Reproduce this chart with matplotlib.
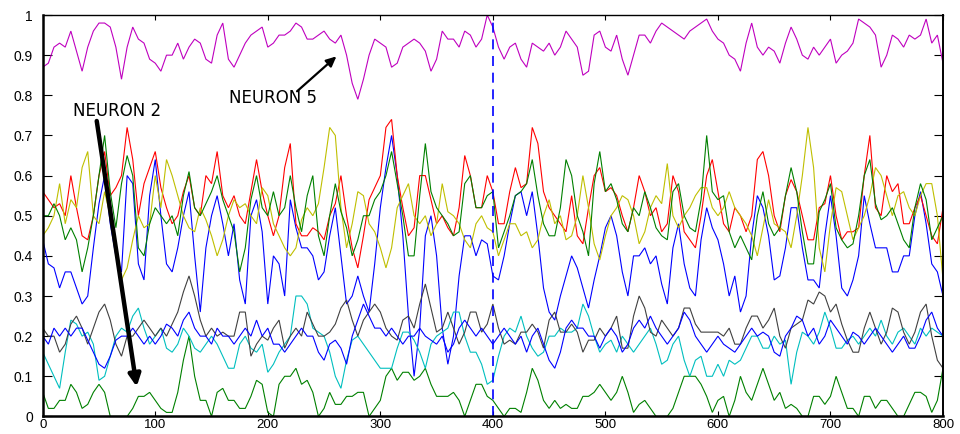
import numpy as np
import matplotlib
matplotlib.use('Agg')
import matplotlib.pyplot as plt
from matplotlib.patches import ArrowStyle

plt.rcParams['font.family'] = ['Liberation Sans', 'DejaVu Sans']

# sample times (every 5 steps)
time = np.arange(0, 801, 5)

# neuron 1 (blue, upper band)
neuron1 = [0.44, 0.38, 0.37, 0.32, 0.36, 0.36, 0.32, 0.28, 0.30, 0.42,
           0.53, 0.60, 0.48, 0.40, 0.36, 0.60, 0.58, 0.38, 0.34, 0.55,
           0.64, 0.50, 0.38, 0.36, 0.42, 0.50, 0.56, 0.40, 0.26, 0.42,
           0.50, 0.55, 0.48, 0.40, 0.48, 0.34, 0.28, 0.50, 0.54, 0.46,
           0.28, 0.40, 0.38, 0.30, 0.54, 0.47, 0.42, 0.42, 0.40, 0.34,
           0.36, 0.45, 0.52, 0.40, 0.28, 0.30, 0.35, 0.30, 0.26, 0.38,
           0.52, 0.62, 0.70, 0.60, 0.45, 0.25, 0.10, 0.22, 0.45, 0.50,
           0.40, 0.22, 0.13, 0.20, 0.35, 0.45, 0.45, 0.40, 0.44, 0.43,
           0.35, 0.34, 0.40, 0.48, 0.55, 0.56, 0.50, 0.56, 0.45, 0.32,
           0.26, 0.24, 0.30, 0.35, 0.40, 0.37, 0.32, 0.27, 0.34, 0.40,
           0.47, 0.50, 0.45, 0.36, 0.30, 0.40, 0.40, 0.42, 0.38, 0.40,
           0.33, 0.28, 0.42, 0.48, 0.38, 0.32, 0.30, 0.44, 0.52, 0.47,
           0.44, 0.38, 0.30, 0.35, 0.26, 0.30, 0.45, 0.55, 0.52, 0.45,
           0.34, 0.35, 0.42, 0.52, 0.52, 0.42, 0.34, 0.34, 0.32, 0.45,
           0.55, 0.45, 0.32, 0.30, 0.34, 0.40, 0.55, 0.48, 0.42, 0.42,
           0.42, 0.36, 0.36, 0.40, 0.40, 0.50, 0.56, 0.48, 0.38, 0.36,
           0.30]

# neuron 2 (dark green, bottom band)
neuron2 = [0.06, 0.02, 0.02, 0.04, 0.04, 0.08, 0.06, 0.02, 0.03, 0.06,
           0.08, 0.06, 0.00, 0.00, 0.00, 0.00, 0.02, 0.05, 0.05, 0.06,
           0.04, 0.02, 0.01, 0.01, 0.06, 0.14, 0.20, 0.10, 0.04, 0.04,
           0.00, 0.06, 0.07, 0.04, 0.04, 0.02, 0.02, 0.05, 0.09, 0.08,
           0.01, 0.00, 0.08, 0.10, 0.10, 0.12, 0.08, 0.09, 0.06, 0.00,
           0.02, 0.06, 0.03, 0.03, 0.05, 0.05, 0.06, 0.06, 0.00, 0.02,
           0.04, 0.10, 0.12, 0.09, 0.11, 0.11, 0.09, 0.10, 0.12, 0.08,
           0.05, 0.05, 0.05, 0.06, 0.04, 0.00, 0.04, 0.08, 0.08, 0.05,
           0.04, 0.02, 0.00, 0.02, 0.02, 0.01, 0.06, 0.12, 0.09, 0.04,
           0.02, 0.04, 0.02, 0.03, 0.02, 0.02, 0.05, 0.05, 0.06, 0.08,
           0.06, 0.04, 0.06, 0.10, 0.06, 0.01, 0.03, 0.04, 0.02, 0.00,
           0.00, 0.00, 0.02, 0.06, 0.10, 0.10, 0.10, 0.08, 0.05, 0.01,
           0.04, 0.05, 0.00, 0.04, 0.10, 0.06, 0.04, 0.08, 0.12, 0.08,
           0.04, 0.06, 0.02, 0.03, 0.02, 0.00, 0.00, 0.05, 0.05, 0.03,
           0.05, 0.10, 0.06, 0.02, 0.02, 0.00, 0.05, 0.05, 0.02, 0.04,
           0.04, 0.02, 0.00, 0.00, 0.03, 0.06, 0.06, 0.05, 0.01, 0.04,
           0.12]

# neuron 3 (red)
neuron3 = [0.56, 0.54, 0.52, 0.53, 0.50, 0.60, 0.52, 0.45, 0.44, 0.50,
           0.60, 0.66, 0.55, 0.57, 0.60, 0.72, 0.64, 0.50, 0.58, 0.62,
           0.66, 0.57, 0.52, 0.48, 0.50, 0.56, 0.60, 0.52, 0.50, 0.60,
           0.58, 0.66, 0.55, 0.52, 0.55, 0.50, 0.48, 0.56, 0.64, 0.56,
           0.50, 0.45, 0.50, 0.62, 0.68, 0.48, 0.45, 0.45, 0.47, 0.46,
           0.44, 0.50, 0.53, 0.60, 0.50, 0.42, 0.37, 0.45, 0.54, 0.57,
           0.60, 0.72, 0.74, 0.60, 0.52, 0.45, 0.47, 0.60, 0.60, 0.54,
           0.48, 0.50, 0.47, 0.45, 0.52, 0.65, 0.60, 0.52, 0.52, 0.60,
           0.56, 0.48, 0.48, 0.56, 0.62, 0.57, 0.58, 0.72, 0.68, 0.56,
           0.52, 0.50, 0.48, 0.46, 0.55, 0.45, 0.43, 0.52, 0.60, 0.62,
           0.56, 0.57, 0.55, 0.50, 0.46, 0.52, 0.60, 0.56, 0.50, 0.52,
           0.46, 0.48, 0.60, 0.56, 0.46, 0.44, 0.42, 0.50, 0.60, 0.64,
           0.56, 0.48, 0.46, 0.52, 0.50, 0.46, 0.50, 0.64, 0.66, 0.60,
           0.50, 0.46, 0.55, 0.59, 0.56, 0.50, 0.44, 0.44, 0.52, 0.53,
           0.60, 0.50, 0.44, 0.46, 0.46, 0.47, 0.60, 0.70, 0.52, 0.50,
           0.60, 0.56, 0.58, 0.48, 0.48, 0.52, 0.55, 0.50, 0.45, 0.43,
           0.52]

# neuron 4 (cyan)
neuron4 = [0.16, 0.13, 0.10, 0.07, 0.16, 0.24, 0.23, 0.20, 0.21, 0.18,
           0.09, 0.10, 0.15, 0.20, 0.22, 0.21, 0.25, 0.27, 0.22, 0.18,
           0.20, 0.22, 0.17, 0.16, 0.18, 0.22, 0.20, 0.17, 0.16, 0.18,
           0.20, 0.18, 0.15, 0.12, 0.12, 0.18, 0.20, 0.17, 0.16, 0.18,
           0.11, 0.13, 0.16, 0.18, 0.20, 0.30, 0.30, 0.28, 0.22, 0.21,
           0.20, 0.16, 0.10, 0.07, 0.14, 0.19, 0.20, 0.18, 0.16, 0.14,
           0.12, 0.12, 0.12, 0.17, 0.21, 0.21, 0.19, 0.16, 0.12, 0.18,
           0.20, 0.21, 0.22, 0.26, 0.26, 0.20, 0.16, 0.16, 0.13, 0.08,
           0.09, 0.15, 0.20, 0.22, 0.21, 0.25, 0.20, 0.17, 0.15, 0.16,
           0.20, 0.20, 0.22, 0.21, 0.21, 0.22, 0.28, 0.25, 0.20, 0.16,
           0.18, 0.19, 0.16, 0.20, 0.18, 0.16, 0.18, 0.20, 0.22, 0.18,
           0.13, 0.14, 0.18, 0.20, 0.14, 0.10, 0.14, 0.15, 0.10, 0.10,
           0.13, 0.10, 0.14, 0.13, 0.14, 0.17, 0.20, 0.20, 0.17, 0.17,
           0.20, 0.18, 0.19, 0.08, 0.16, 0.21, 0.20, 0.18, 0.21, 0.26,
           0.22, 0.17, 0.17, 0.19, 0.20, 0.18, 0.20, 0.22, 0.20, 0.24,
           0.20, 0.18, 0.21, 0.22, 0.20, 0.18, 0.22, 0.20, 0.22, 0.21,
           0.20]

# neuron 5 (magenta, top band)
neuron5 = [0.87, 0.88, 0.92, 0.93, 0.92, 0.96, 0.91, 0.86, 0.92, 0.96,
           0.98, 0.98, 0.97, 0.92, 0.84, 0.92, 0.97, 0.94, 0.93, 0.89,
           0.88, 0.86, 0.90, 0.90, 0.93, 0.89, 0.92, 0.94, 0.93, 0.89,
           0.88, 0.95, 0.98, 0.89, 0.87, 0.90, 0.93, 0.95, 0.96, 0.97,
           0.92, 0.93, 0.95, 0.95, 0.96, 0.98, 0.97, 0.94, 0.94, 0.95,
           0.96, 0.94, 0.93, 0.95, 0.90, 0.83, 0.79, 0.84, 0.90, 0.94,
           0.93, 0.92, 0.87, 0.88, 0.92, 0.93, 0.94, 0.93, 0.91, 0.86,
           0.89, 0.96, 0.94, 0.94, 0.92, 0.96, 0.95, 0.92, 0.94, 1.00,
           0.97, 0.92, 0.89, 0.92, 0.93, 0.89, 0.87, 0.93, 0.92, 0.91,
           0.93, 0.90, 0.92, 0.96, 0.94, 0.92, 0.85, 0.86, 0.95, 0.96,
           0.92, 0.91, 0.95, 0.89, 0.85, 0.90, 0.95, 0.95, 0.93, 0.96,
           0.98, 0.97, 0.96, 0.95, 0.94, 0.96, 0.97, 0.98, 0.99, 0.96,
           0.94, 0.93, 0.90, 0.89, 0.86, 0.93, 0.98, 0.92, 0.90, 0.92,
           0.91, 0.88, 0.93, 0.97, 0.94, 0.90, 0.89, 0.92, 0.90, 0.92,
           0.94, 0.88, 0.90, 0.91, 0.93, 0.99, 0.98, 0.97, 0.95, 0.87,
           0.90, 0.95, 0.94, 0.92, 0.95, 0.94, 0.95, 0.99, 0.93, 0.95,
           0.88]

# neuron 6 (yellow)
neuron6 = [0.45, 0.47, 0.50, 0.58, 0.48, 0.54, 0.52, 0.62, 0.66, 0.50,
           0.48, 0.56, 0.50, 0.42, 0.34, 0.37, 0.44, 0.50, 0.47, 0.48,
           0.60, 0.52, 0.64, 0.60, 0.55, 0.50, 0.47, 0.46, 0.52, 0.49,
           0.45, 0.40, 0.44, 0.50, 0.54, 0.52, 0.53, 0.50, 0.48, 0.57,
           0.55, 0.48, 0.45, 0.42, 0.40, 0.42, 0.49, 0.52, 0.50, 0.53,
           0.62, 0.72, 0.70, 0.52, 0.42, 0.48, 0.56, 0.55, 0.48, 0.46,
           0.42, 0.37, 0.42, 0.52, 0.55, 0.58, 0.50, 0.48, 0.50, 0.45,
           0.48, 0.58, 0.51, 0.50, 0.48, 0.44, 0.42, 0.48, 0.50, 0.47,
           0.46, 0.40, 0.44, 0.48, 0.48, 0.45, 0.46, 0.42, 0.44, 0.50,
           0.54, 0.48, 0.50, 0.44, 0.45, 0.50, 0.60, 0.52, 0.43, 0.39,
           0.45, 0.50, 0.52, 0.55, 0.54, 0.50, 0.43, 0.46, 0.52, 0.55,
           0.53, 0.63, 0.50, 0.47, 0.50, 0.52, 0.55, 0.57, 0.57, 0.52,
           0.50, 0.52, 0.56, 0.52, 0.50, 0.48, 0.45, 0.40, 0.47, 0.54,
           0.48, 0.47, 0.46, 0.42, 0.50, 0.60, 0.72, 0.62, 0.42, 0.36,
           0.48, 0.57, 0.56, 0.50, 0.44, 0.47, 0.50, 0.55, 0.62, 0.60,
           0.55, 0.50, 0.55, 0.56, 0.52, 0.50, 0.55, 0.58, 0.58, 0.50,
           0.34]

# neuron 7 (dark grey)
neuron7 = [0.22, 0.20, 0.20, 0.16, 0.18, 0.23, 0.25, 0.22, 0.18, 0.22,
           0.26, 0.28, 0.24, 0.18, 0.15, 0.20, 0.20, 0.22, 0.24, 0.22,
           0.20, 0.22, 0.20, 0.23, 0.26, 0.31, 0.35, 0.30, 0.24, 0.20,
           0.22, 0.20, 0.21, 0.20, 0.20, 0.26, 0.26, 0.15, 0.18, 0.20,
           0.19, 0.22, 0.24, 0.17, 0.20, 0.22, 0.20, 0.26, 0.23, 0.20,
           0.20, 0.21, 0.23, 0.27, 0.29, 0.24, 0.20, 0.24, 0.26, 0.28,
           0.26, 0.22, 0.20, 0.19, 0.24, 0.25, 0.22, 0.28, 0.33, 0.27,
           0.21, 0.22, 0.26, 0.22, 0.18, 0.21, 0.26, 0.26, 0.21, 0.23,
           0.28, 0.22, 0.18, 0.19, 0.18, 0.21, 0.21, 0.23, 0.21, 0.17,
           0.24, 0.26, 0.21, 0.21, 0.23, 0.21, 0.16, 0.19, 0.19, 0.22,
           0.20, 0.22, 0.25, 0.17, 0.17, 0.25, 0.30, 0.27, 0.21, 0.20,
           0.24, 0.22, 0.20, 0.22, 0.27, 0.27, 0.23, 0.21, 0.21, 0.21,
           0.21, 0.20, 0.22, 0.18, 0.18, 0.22, 0.25, 0.25, 0.22, 0.24,
           0.27, 0.20, 0.17, 0.22, 0.23, 0.24, 0.29, 0.28, 0.31, 0.30,
           0.26, 0.28, 0.23, 0.19, 0.16, 0.16, 0.22, 0.26, 0.22, 0.18,
           0.21, 0.27, 0.26, 0.21, 0.18, 0.21, 0.26, 0.28, 0.20, 0.14,
           0.12]

# neuron 8 (blue, lower band)
neuron8 = [0.20, 0.18, 0.22, 0.20, 0.22, 0.20, 0.22, 0.22, 0.19, 0.16,
           0.13, 0.12, 0.15, 0.19, 0.20, 0.20, 0.22, 0.20, 0.18, 0.20,
           0.18, 0.20, 0.23, 0.22, 0.20, 0.24, 0.26, 0.22, 0.20, 0.20,
           0.18, 0.22, 0.20, 0.20, 0.18, 0.20, 0.22, 0.20, 0.24, 0.20,
           0.22, 0.18, 0.18, 0.16, 0.18, 0.20, 0.22, 0.20, 0.20, 0.16,
           0.14, 0.18, 0.19, 0.17, 0.13, 0.20, 0.24, 0.28, 0.25, 0.22,
           0.22, 0.20, 0.22, 0.20, 0.18, 0.20, 0.20, 0.22, 0.20, 0.19,
           0.18, 0.20, 0.16, 0.18, 0.22, 0.24, 0.22, 0.20, 0.22, 0.20,
           0.18, 0.20, 0.22, 0.20, 0.18, 0.20, 0.16, 0.20, 0.22, 0.18,
           0.14, 0.12, 0.16, 0.22, 0.24, 0.22, 0.22, 0.20, 0.20, 0.17,
           0.20, 0.22, 0.20, 0.16, 0.18, 0.22, 0.24, 0.22, 0.25, 0.22,
           0.20, 0.18, 0.20, 0.22, 0.26, 0.24, 0.20, 0.18, 0.16, 0.18,
           0.20, 0.18, 0.17, 0.16, 0.18, 0.20, 0.22, 0.20, 0.21, 0.20,
           0.16, 0.15, 0.20, 0.22, 0.25, 0.24, 0.20, 0.22, 0.18, 0.20,
           0.24, 0.22, 0.20, 0.18, 0.21, 0.20, 0.18, 0.20, 0.22, 0.20,
           0.18, 0.16, 0.18, 0.20, 0.17, 0.17, 0.20, 0.24, 0.26, 0.22,
           0.20]

# neuron 9 (dark green, upper band)
neuron9 = [0.50, 0.50, 0.53, 0.50, 0.44, 0.47, 0.44, 0.36, 0.42, 0.50,
           0.60, 0.70, 0.56, 0.47, 0.58, 0.65, 0.60, 0.42, 0.40, 0.48,
           0.52, 0.50, 0.48, 0.50, 0.45, 0.55, 0.61, 0.52, 0.50, 0.53,
           0.56, 0.60, 0.54, 0.50, 0.46, 0.36, 0.42, 0.54, 0.60, 0.52,
           0.50, 0.56, 0.50, 0.52, 0.60, 0.52, 0.46, 0.55, 0.60, 0.45,
           0.40, 0.50, 0.58, 0.51, 0.47, 0.40, 0.44, 0.50, 0.50, 0.54,
           0.56, 0.60, 0.66, 0.58, 0.50, 0.40, 0.40, 0.55, 0.68, 0.56,
           0.52, 0.50, 0.48, 0.45, 0.46, 0.58, 0.60, 0.52, 0.52, 0.55,
           0.56, 0.42, 0.46, 0.50, 0.55, 0.56, 0.58, 0.64, 0.55, 0.48,
           0.45, 0.45, 0.52, 0.64, 0.60, 0.50, 0.46, 0.40, 0.58, 0.66,
           0.56, 0.58, 0.54, 0.48, 0.46, 0.52, 0.50, 0.56, 0.52, 0.47,
           0.45, 0.44, 0.56, 0.58, 0.50, 0.47, 0.46, 0.54, 0.70, 0.56,
           0.54, 0.55, 0.46, 0.42, 0.45, 0.42, 0.39, 0.50, 0.56, 0.48,
           0.45, 0.47, 0.55, 0.62, 0.56, 0.46, 0.38, 0.38, 0.51, 0.54,
           0.58, 0.47, 0.44, 0.42, 0.43, 0.50, 0.60, 0.64, 0.53, 0.49,
           0.50, 0.52, 0.48, 0.44, 0.42, 0.52, 0.58, 0.54, 0.44, 0.47,
           0.50]

series = [neuron1, neuron2, neuron3, neuron4, neuron5,
          neuron6, neuron7, neuron8, neuron9]
colors = [(0, 0, 1), (0, 0.5, 0), (1, 0, 0), (0, 0.75, 0.75), (0.75, 0, 0.75),
          (0.75, 0.75, 0), (0.25, 0.25, 0.25), (0, 0, 1), (0, 0.5, 0)]

x_ticks = [0, 100, 200, 300, 400, 500, 600, 700, 800]
x_tick_labels = ['0', '100', '200', '300', '400', '500', '600', '700', '800']
y_ticks = [0, 0.1, 0.2, 0.3, 0.4, 0.5, 0.6, 0.7, 0.8, 0.9, 1.0]
y_tick_labels = ['0', '0.1', '0.2', '0.3', '0.4', '0.5', '0.6', '0.7', '0.8', '0.9', '1']

marker_time = 400

fig = plt.figure(figsize=(9.6, 4.34), dpi=100)
ax = fig.add_axes([0.0445, 0.0405, 0.9378, 0.9249])

for vals, c in zip(series, colors):
    ax.plot(time, vals, color=c, lw=0.8, solid_joinstyle='miter')

ax.axvline(marker_time, color=(0, 0, 1), lw=1.2, ls=(0, (6, 4)))

ax.set_xlim(0, 800)
ax.set_ylim(0, 1)
ax.set_xticks(x_ticks)
ax.set_xticklabels(x_tick_labels)
ax.set_yticks(y_ticks)
ax.set_yticklabels(y_tick_labels)
ax.tick_params(direction='in', top=True, right=True, labelsize=10, width=0.8, colors='black')
ax.tick_params(axis='y', length=6.5, pad=7)
ax.tick_params(axis='x', length=3.6, pad=1.5, labelsize=9.5)
for side, lw in [('left', 1.8), ('bottom', 1.8), ('right', 1.4), ('top', 1.0)]:
    ax.spines[side].set_linewidth(lw)
    ax.spines[side].set_color('black')

# annotations
ax.text(205, 0.793, 'NEURON 5', ha='center', va='center', fontsize=12,
        family=['DejaVu Sans'])
ax.annotate('', xy=(261, 0.897), xytext=(226, 0.81),
            arrowprops=dict(arrowstyle=ArrowStyle('-|>', head_length=0.6, head_width=0.28),
                            mutation_scale=10, lw=1.6, color='black',
                            shrinkA=0, shrinkB=0))
ax.text(66, 0.762, 'NEURON 2', ha='center', va='center', fontsize=12,
        family=['DejaVu Sans'])
ax.annotate('', xy=(83.5, 0.074), xytext=(48, 0.736),
            arrowprops=dict(arrowstyle=ArrowStyle('-|>', head_length=0.7, head_width=0.35),
                            mutation_scale=10, lw=3.2, color='black',
                            shrinkA=0, shrinkB=0))

fig.savefig('out.png', dpi=100)
